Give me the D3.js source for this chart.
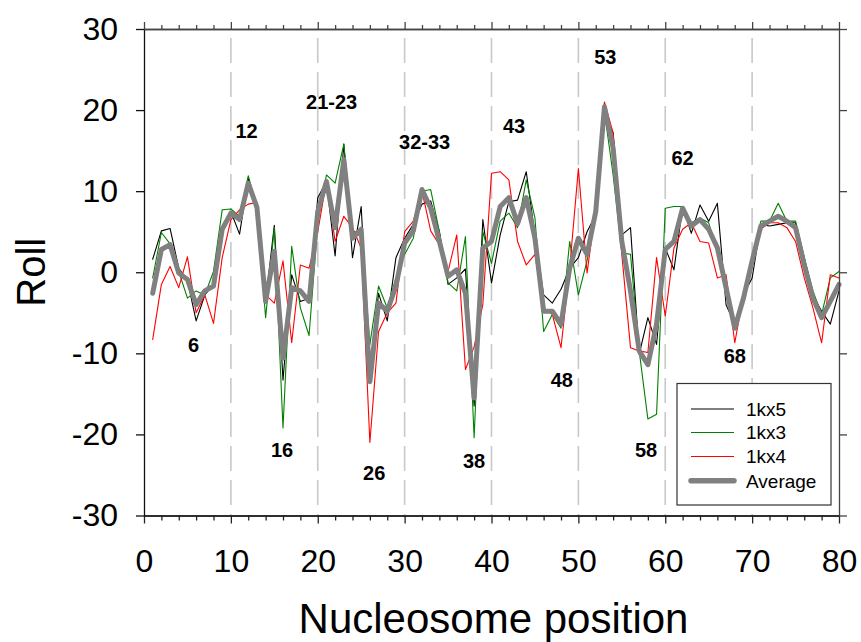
<!DOCTYPE html>
<html>
<head>
<meta charset="utf-8">
<script src="https://cdn.jsdelivr.net/npm/d3@7"></script>
<style>
  html, body { margin: 0; padding: 0; background: #fff; }
  svg { display: block; font-family: "Liberation Sans", Arial, sans-serif; }
</style>
</head>
<body>
<svg id="chart" width="861" height="642"></svg>
<script>
// ---- data ----
const positions = d3.range(1, 81);
const xTicks = [0, 10, 20, 30, 40, 50, 60, 70, 80];
const yTicks = [-30, -20, -10, 0, 10, 20, 30];
const gridLines = [10, 20, 30, 40, 50, 60, 70];

const roll1kx5 = [1.6, 5.1, 5.4, 0.5, -1.0, -6.0, -2.8, -1.5, 5.0, 7.5,
  4.7, 11.6, 8.0, -3.6, 5.8, -13.3, -0.3, -3.6, -3.2, 9.2,
  11.2, 2.0, 15.8, 1.8, 8.1, -12.2, -2.6, -6.0, 1.8, 4.2,
  5.9, 8.4, 8.8, 5.0, -1.5, -0.7, 0.4, -16.5, 6.5, -1.3,
  4.6, 8.7, 8.9, 12.4, 4.6, -2.8, -3.8, -2.1, 0.5, 1.8,
  5.0, 7.1, 19.4, 17.2, 4.6, 5.5, -10.1, -5.6, -8.9, 3.0,
  0.3, 8.1, 4.8, 8.3, 6.3, 8.5, -4.0, -6.4, -2.8, -0.7,
  5.9, 5.7, 5.9, 6.1, 6.1, 1.8, -2.8, -4.8, -6.4, -2.3];

const roll1kx3 = [-0.7, 4.9, 3.5, 0.1, -3.2, -2.3, -2.8, 0.1, 7.7, 7.8,
  6.9, 11.9, 8.0, -5.6, 5.5, -19.2, 3.2, -4.4, -7.8, 6.0,
  12.0, 11.0, 15.8, 5.0, 5.0, -8.9, -1.7, -4.4, -0.7, 2.2,
  4.2, 10.0, 10.2, 5.0, -1.3, -2.3, 4.4, -20.4, 5.0, 1.1,
  6.3, 7.3, 5.5, 11.4, 6.7, -7.3, -5.2, -6.9, 3.8, -2.8,
  1.4, 7.5, 19.8, 12.0, 2.4, 2.2, -9.7, -18.1, -17.5, 7.9,
  8.1, 8.1, 6.1, 6.7, 6.1, 2.6, -1.9, -6.4, -2.8, 1.4,
  6.3, 6.3, 8.5, 6.3, 6.3, 1.8, -2.3, -5.2, -0.7, 0.1];

const roll1kx4 = [-8.3, -1.5, 0.7, -1.9, 1.9, -5.0, -2.8, -6.3, 1.8, 6.5,
  7.7, 8.4, 8.6, -2.8, -3.8, 1.4, -8.7, 0.9, 0.5, 5.0,
  11.2, 3.8, 6.9, 5.5, 3.0, -21.0, -7.3, -5.0, -3.8, 5.0,
  6.3, 10.0, 5.1, 3.4, 0.1, 4.6, -12.0, -9.2, -4.0, 12.2,
  12.4, 11.4, 3.8, 0.9, 2.2, -4.4, -5.2, -9.3, 0.5, 12.8,
  -0.1, 7.9, 21.0, 17.2, 2.2, -9.3, -9.7, -9.9, 1.8, -5.4,
  3.0, 5.3, 6.1, 3.8, 3.6, -0.7, -0.3, -8.7, -2.8, 0.9,
  5.3, 6.1, 6.1, 5.5, 3.8, -0.7, -4.4, -8.7, -0.3, -0.7];

const rollAverage = [-2.6, 2.8, 3.4, -0.1, -0.9, -4.0, -2.3, -1.7, 5.3, 7.3,
  6.5, 11.0, 8.0, -3.6, 2.6, -10.6, -1.9, -2.3, -3.6, 7.5,
  11.2, 5.5, 13.9, 4.2, 5.3, -13.5, -3.8, -4.8, -1.7, 3.6,
  5.1, 10.2, 7.9, 3.8, -0.5, 0.3, -2.6, -15.5, 3.0, 3.8,
  8.1, 9.2, 6.0, 9.2, 4.2, -4.8, -4.8, -6.4, 0.5, 4.2,
  2.2, 7.5, 20.4, 15.3, 3.8, -2.3, -9.7, -11.4, -6.4, 2.8,
  3.8, 7.9, 5.7, 6.5, 5.3, 3.0, -1.9, -6.9, -3.2, 1.4,
  5.7, 6.3, 6.9, 6.3, 5.5, 0.9, -3.2, -5.6, -3.6, -1.5];

const seriesNames = ["1kx5", "1kx3", "1kx4", "Average"];
const seriesValues = [roll1kx5, roll1kx3, roll1kx4, rollAverage];

const annotationText = ["6", "12", "16", "21-23", "26", "32-33", "38", "43", "48", "53", "58", "62", "68"];
const annotationX = [5.7, 11.8, 15.9, 21.6, 26.5, 32.3, 38.0, 42.6, 48.1, 53.1, 57.8, 62.0, 68.0];
const annotationY = [-9.0, 17.4, -21.9, 21.0, -24.8, 16.1, -23.3, 18.0, -13.3, 26.5, -21.9, 14.1, -10.3];

// ---- styles ----
const colors = ["#000000", "#008000", "#ff0000", "#808080"];
const widths = [1.1, 1.1, 1.1, 5];

// ---- layout ----
const pLeft = 144, pRight = 839, pTop = 29, pBottom = 515.5;
const svg = d3.select("#chart");

const x = d3.scaleLinear().domain([0, 80]).range([pLeft, pRight]);
const y = d3.scaleLinear().domain([-30, 30]).range([pBottom, pTop]);

// dashed grid lines
svg.append("g").selectAll("line").data(gridLines).join("line")
  .attr("x1", d => x(d)).attr("x2", d => x(d))
  .attr("y1", pTop).attr("y2", pBottom)
  .attr("stroke", "#c8c8c8").attr("stroke-width", 1.6)
  .attr("stroke-dasharray", "25,9").attr("stroke-dashoffset", 25);

// series lines
const line = d3.line().x((d, i) => x(positions[i])).y(d => y(d));
seriesValues.forEach((vals, k) => {
  svg.append("path").datum(vals)
    .attr("d", line)
    .attr("fill", "none")
    .attr("stroke", colors[k])
    .attr("stroke-width", widths[k])
    .attr("stroke-linejoin", "round")
    .attr("stroke-linecap", "round");
});

// axes
const minorTicks = d3.range(0, 81, 2).filter(v => v % 10 !== 0);
const axisColor = "#222";
const frameColor = "#444";
const fmt = d => String(d);

function styleAxis(g, color) {
  g.selectAll("path.domain").attr("stroke", color).attr("stroke-width", 1.3);
  g.selectAll(".tick line").attr("stroke", color).attr("stroke-width", 1.3);
}

// bottom
const gb = svg.append("g").attr("transform", `translate(0,${pBottom})`)
  .call(d3.axisBottom(x).tickValues(xTicks).tickSize(8).tickSizeOuter(0).tickPadding(26).tickFormat(fmt));
styleAxis(gb, axisColor);
gb.selectAll("text").attr("font-size", 32).attr("fill", "#000").attr("font-family", "Liberation Sans, Arial, sans-serif");
const gbm = svg.append("g").attr("transform", `translate(0,${pBottom})`)
  .call(d3.axisBottom(x).tickValues(minorTicks).tickSize(5).tickSizeOuter(0).tickFormat(""));
styleAxis(gbm, axisColor);

// top
const gt = svg.append("g").attr("transform", `translate(0,${pTop})`)
  .call(d3.axisTop(x).tickValues(xTicks).tickSize(7).tickSizeOuter(0).tickFormat(""));
styleAxis(gt, frameColor);
const gtm = svg.append("g").attr("transform", `translate(0,${pTop})`)
  .call(d3.axisTop(x).tickValues(minorTicks).tickSize(4).tickSizeOuter(0).tickFormat(""));
styleAxis(gtm, frameColor);

// left
const gl = svg.append("g").attr("transform", `translate(${pLeft},0)`)
  .call(d3.axisLeft(y).tickValues(yTicks).tickSize(8).tickSizeOuter(0).tickPadding(18).tickFormat(fmt));
styleAxis(gl, "#111");
gl.selectAll("text").attr("font-size", 32).attr("fill", "#000").attr("font-family", "Liberation Sans, Arial, sans-serif");

// right
const gr = svg.append("g").attr("transform", `translate(${pRight},0)`)
  .call(d3.axisRight(y).tickValues(yTicks).tickSize(8).tickSizeOuter(0).tickFormat(""));
styleAxis(gr, frameColor);

// axis titles
svg.append("text")
  .attr("x", (pLeft + pRight) / 2 + 2).attr("y", 633)
  .attr("text-anchor", "middle").attr("font-size", 42).attr("fill", "#000")
  .text("Nucleosome position");
svg.append("text")
  .attr("transform", `translate(45,${(pTop + pBottom) / 2}) rotate(-90)`)
  .attr("text-anchor", "middle").attr("font-size", 40).attr("fill", "#000")
  .text("Roll");

// annotations
svg.append("g").selectAll("text").data(annotationText).join("text")
  .attr("x", (d, i) => x(annotationX[i]))
  .attr("y", (d, i) => y(annotationY[i]))
  .attr("text-anchor", "middle").attr("dominant-baseline", "central")
  .attr("font-size", 20).attr("font-weight", "bold").attr("fill", "#000")
  .text(d => d);

// legend
const lg = svg.append("g");
lg.append("rect").attr("x", 677).attr("y", 383.5).attr("width", 154).attr("height", 121.5)
  .attr("fill", "#fff").attr("stroke", "#333").attr("stroke-width", 1.2);
const rowY = [409, 432.5, 456.5, 480.7];
seriesNames.forEach((name, k) => {
  lg.append("line").attr("x1", 691).attr("x2", 734).attr("y1", rowY[k]).attr("y2", rowY[k])
    .attr("stroke", colors[k]).attr("stroke-width", k === 3 ? 5.5 : 1.2)
    .attr("stroke-linecap", k === 3 ? "round" : "butt");
  lg.append("text").attr("x", 746).attr("y", rowY[k]).attr("dy", "0.36em")
    .attr("font-size", 19).attr("fill", "#000").text(name);
});
</script>
</body>
</html>
